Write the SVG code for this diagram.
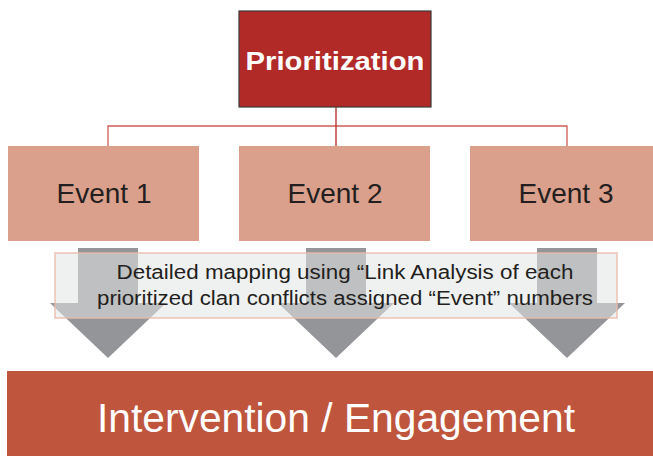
<svg xmlns="http://www.w3.org/2000/svg" width="653" height="456" viewBox="0 0 653 456">
<style>
.ev{fill:#DBA08B}
.evt{font-family:"Liberation Sans",Arial,sans-serif;font-size:28px;fill:#231F20;text-anchor:middle}
.arrow{fill:#939598}
.ln{stroke:#CF5E57;stroke-width:1.3;fill:none}
.map{font-family:"Liberation Sans",Arial,sans-serif;font-size:19.5px;fill:#231F20;text-anchor:middle}
</style>
<rect width="653" height="456" fill="#FFFFFF"/>
<g id="connectors">
<path class="ln" d="M108,146 V126 H567 V146"/>
<path d="M336,107 V146" stroke="#B22A27" stroke-width="1.3" fill="none"/>
</g>
<g id="prioritization">
<rect x="239" y="11" width="192" height="96" fill="#B22A27" stroke="#3A3A3A" stroke-width="1.2"/>
<text x="335" y="70" font-family="Liberation Sans,Arial,sans-serif" font-weight="bold" font-size="26" fill="#FFFFFF" text-anchor="middle" textLength="179" lengthAdjust="spacingAndGlyphs">Prioritization</text>
</g>
<g id="event1">
<rect class="ev" x="8" y="146" width="191" height="95"/>
<text class="evt" x="104" y="203">Event 1</text>
</g>
<g id="event2">
<rect class="ev" x="239" y="146" width="191" height="95"/>
<text class="evt" x="335" y="203">Event 2</text>
</g>
<g id="event3">
<rect class="ev" x="470" y="146" width="183" height="95"/>
<text class="evt" x="566" y="203">Event 3</text>
</g>
<g id="arrows">
<polygon class="arrow" points="78,248 138,248 138,303 166,303 108,358 50,303 78,303"/>
<polygon class="arrow" points="306,248 366,248 366,303 394,303 336,358 278,303 306,303"/>
<polygon class="arrow" points="537,248 597,248 597,303 625,303 567,358 509,303 537,303"/>
</g>
<g id="mapping">
<rect x="55" y="253" width="562" height="65" fill="#E1E3E3" fill-opacity="0.55" stroke="#EBBBAA" stroke-width="1.3"/>
<text class="map" x="345" y="279" textLength="457" lengthAdjust="spacingAndGlyphs">Detailed mapping using “Link Analysis of each</text>
<text class="map" x="345" y="305" textLength="496" lengthAdjust="spacingAndGlyphs">prioritized clan conflicts assigned “Event” numbers</text>
</g>
<g id="intervention">
<rect x="7" y="371" width="646" height="85" fill="#BE553C"/>
<text x="336" y="432" font-family="Liberation Sans,Arial,sans-serif" font-size="40" fill="#FFFFFF" text-anchor="middle" textLength="478" lengthAdjust="spacingAndGlyphs">Intervention / Engagement</text>
</g>
</svg>
